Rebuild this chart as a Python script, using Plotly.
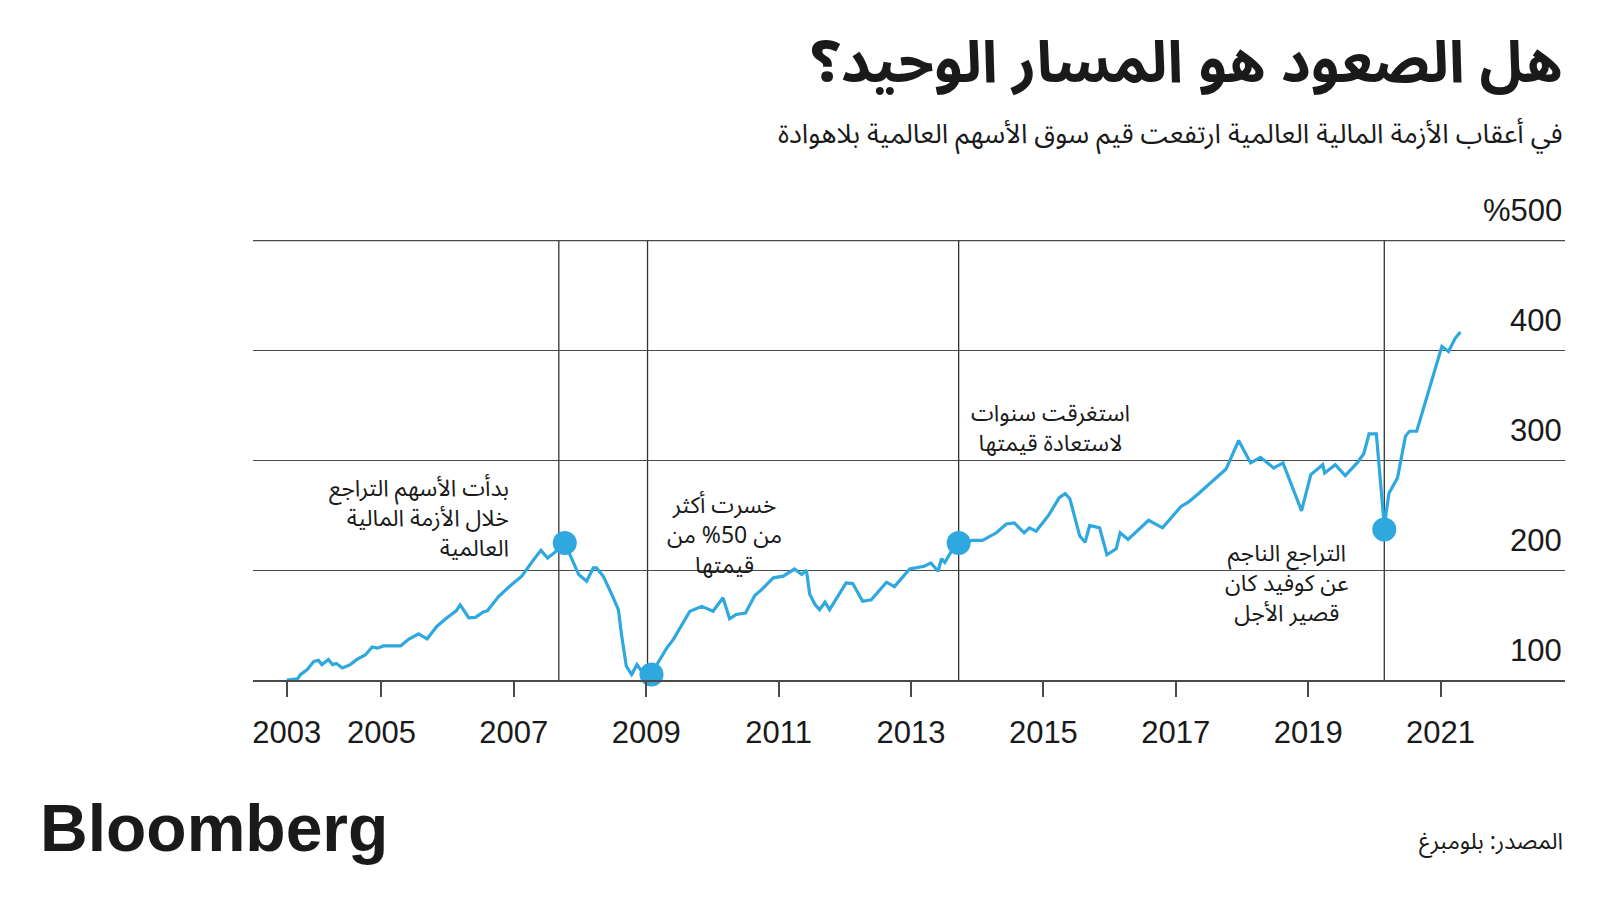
import plotly.graph_objects as go

# ---- data ----
years = [2003.57, 2003.73, 2003.78, 2003.88, 2003.98, 2004.05, 2004.10, 2004.20, 2004.26, 2004.32,
         2004.41, 2004.53, 2004.63, 2004.76, 2004.86, 2004.94, 2005.03, 2005.14, 2005.29, 2005.41,
         2005.56, 2005.69, 2005.84, 2005.99, 2006.13, 2006.19, 2006.32, 2006.42, 2006.54, 2006.60,
         2006.77, 2006.95, 2007.12, 2007.30, 2007.41, 2007.51, 2007.61, 2007.77, 2007.88, 2007.98,
         2008.10, 2008.20, 2008.25, 2008.35, 2008.48, 2008.58, 2008.63, 2008.70, 2008.78, 2008.86,
         2008.93, 2009.05, 2009.20, 2009.31, 2009.41, 2009.54, 2009.66, 2009.84, 2010.01, 2010.16,
         2010.20, 2010.26, 2010.36, 2010.50, 2010.64, 2010.74, 2010.92, 2011.07, 2011.24, 2011.35,
         2011.42, 2011.47, 2011.55, 2011.62, 2011.70, 2011.77, 2012.02, 2012.12, 2012.27, 2012.40,
         2012.63, 2012.75, 2012.98, 2013.20, 2013.30, 2013.41, 2013.46, 2013.51, 2013.61, 2013.72,
         2013.93, 2014.08, 2014.29, 2014.44, 2014.56, 2014.71, 2014.79, 2014.89, 2015.08, 2015.24,
         2015.33, 2015.40, 2015.55, 2015.63, 2015.70, 2015.85, 2015.96, 2016.10, 2016.16, 2016.28,
         2016.59, 2016.80, 2017.08, 2017.19, 2017.35, 2017.76, 2017.95, 2018.13, 2018.28, 2018.48,
         2018.62, 2018.90, 2019.04, 2019.22, 2019.25, 2019.41, 2019.56, 2019.74, 2019.84, 2019.92,
         2020.03, 2020.15, 2020.22, 2020.35, 2020.47, 2020.53, 2020.64, 2021.02, 2021.12, 2021.22,
         2021.30]
values = [100, 101, 105, 109.5, 117, 118, 114, 118.7, 114, 115,
          111, 114, 118.7, 123, 130, 129, 131, 131, 131, 137,
          142, 137.5, 149, 156.6, 163, 168.4, 156.6, 157, 162, 163,
          176, 186, 194.5, 209.6, 218, 211, 215.7, 224.8, 209.6, 196,
          190, 202, 202, 194.5, 178, 164, 140, 112.6, 105, 114,
          108, 103, 118, 129, 137, 150.5, 162.6, 167, 162.6, 174.8,
          167, 155.7, 159.6, 161, 177, 182, 193, 194.5, 201, 196,
          200, 178, 168.7, 164, 170.8, 164, 188.4, 187.8, 171.7, 173,
          189, 185, 201, 203.5, 206.6, 199, 210.5, 207, 217, 224.8,
          227, 227, 234, 242, 243, 234, 238.5, 235.4, 250, 266,
          269.7, 265, 231, 225.4, 240.6, 238.5, 214, 219.4, 234, 228,
          245.4, 238.5, 258, 261.8, 270, 292, 318, 297.6, 302.7, 293,
          297.6, 254, 287, 296, 288.5, 296, 286, 297.6, 306, 324,
          324, 240, 270, 284, 322, 326.4, 326.4, 403.7, 399, 411,
          416.8]

event_years = [2007.77, 2009.08, 2013.72, 2020.15]
event_values = [224.8, 105, 224.8, 237]
event_lines = [2007.68, 2009.02, 2013.72, 2020.15]

xtick_vals = [2003.57, 2005, 2007, 2009, 2011, 2013, 2015, 2017, 2019, 2021]
xtick_text = ["2003", "2005", "2007", "2009", "2011", "2013", "2015", "2017", "2019", "2021"]
ytick_vals = [100, 200, 300, 400, 500]
ytick_text = ["100", "200", "300", "400", "%500"]

TITLE = "هل الصعود هو المسار الوحيد؟"
SUBTITLE = "في أعقاب الأزمة المالية العالمية ارتفعت قيم سوق الأسهم العالمية بلاهوادة"
SOURCE = "المصدر: بلومبرغ"
NOTE1 = ["بدأت الأسهم التراجع", "خلال الأزمة المالية", "العالمية"]
NOTE2 = ["خسرت أكثر", "من 50% من", "قيمتها"]
NOTE3 = ["استغرقت سنوات", "لاستعادة قيمتها"]
NOTE4 = ["التراجع الناجم", "عن كوفيد كان", "قصير الأجل"]

# ---- layout geometry (screen pixels; page body adds an 8px offset) ----
OFF = 8
W, H = 1600 - 2 * OFF, 900 - 2 * OFF
L, R = 253, 1565            # plot area edges on screen
Y0, Y1 = 100, 500.5
Y500_PX, B = 241, 680.5     # screen y of the 500 gridline and of the 100 axis line
T = B - (B - Y500_PX) * (Y1 - Y0) / (500 - Y0)
X0, X1 = 2003.06, 2022.88

BLUE = "#2ea8df"
INK = "#1a1a1a"
GRID = "#4a4a4a"
AR_FONT = "Noto Sans Arabic, DejaVu Sans, sans-serif"
NUM_FONT = "Liberation Sans, Arial, sans-serif"


def px_x(px):
    return X0 + (px - L) / (R - L) * (X1 - X0)


def px_y(py):
    return Y0 + (B - py) / (B - T) * (Y1 - Y0)


def paper_x(px):
    return (px - L) / (R - L)


def paper_y(py):
    return (B - py) / (B - T)


fig = go.Figure()
fig.add_trace(go.Scatter(x=years, y=values, mode="lines",
                         line=dict(color=BLUE, width=3.2), hoverinfo="skip",
                         cliponaxis=False))
fig.add_trace(go.Scatter(x=event_years, y=event_values, mode="markers",
                         marker=dict(color=BLUE, size=24, line=dict(width=0)),
                         hoverinfo="skip", cliponaxis=False))

shapes = []
for ex in event_lines:
    shapes.append(dict(type="line", xref="x", yref="y", x0=ex, x1=ex, y0=Y0, y1=ytick_vals[-1],
                       line=dict(color="#333333", width=1.3), layer="below"))
# top gridline (the axis omits a gridline this close to the plot edge)
shapes.append(dict(type="line", xref="paper", yref="y", x0=0, x1=1,
                   y0=ytick_vals[-1], y1=ytick_vals[-1],
                   line=dict(color=GRID, width=1.3), layer="below"))

annotations = []


def add_note(lines, xpx, ypx_mid, anchor, size=23):
    annotations.append(dict(x=px_x(xpx), y=px_y(ypx_mid), xref="x", yref="y",
                            text="<br>".join(lines), align=anchor,
                            showarrow=False, xanchor=anchor, yanchor="middle",
                            font=dict(family=AR_FONT, size=size, color=INK)))


add_note(NOTE1, 511, 519, "right")
add_note(NOTE2, 724, 536, "center")
add_note(NOTE3, 1050, 429, "center")
add_note(NOTE4, 1287, 584, "center")

# y tick labels sit above their gridlines at the right edge
for v, t in zip(ytick_vals, ytick_text):
    annotations.append(dict(x=1, y=v, xref="paper", yref="y", text=t, showarrow=False,
                            xanchor="right", yanchor="middle", yshift=30, xshift=-1,
                            font=dict(family=NUM_FONT, size=31, color=INK)))

annotations.append(dict(x=paper_x(1565), y=paper_y(64), xref="paper", yref="paper", text=TITLE,
                        showarrow=False, xanchor="right", yanchor="middle",
                        font=dict(family=AR_FONT, size=58, color=INK, weight="bold")))
annotations.append(dict(x=paper_x(1565), y=paper_y(135), xref="paper", yref="paper", text=SUBTITLE,
                        showarrow=False, xanchor="right", yanchor="middle",
                        font=dict(family=AR_FONT, size=27, color=INK)))
annotations.append(dict(x=paper_x(1565), y=paper_y(842), xref="paper", yref="paper", text=SOURCE,
                        showarrow=False, xanchor="right", yanchor="middle",
                        font=dict(family=AR_FONT, size=23, color=INK)))
annotations.append(dict(x=paper_x(38), y=paper_y(829), xref="paper", yref="paper",
                        text="<b>Bloomberg</b>",
                        showarrow=False, xanchor="left", yanchor="middle",
                        font=dict(family=NUM_FONT, size=66, color=INK)))

fig.update_layout(
    width=W, height=H,
    margin=dict(l=L - OFF, r=W - (R - OFF), t=T - OFF, b=H - (B - OFF), pad=0),
    paper_bgcolor="white", plot_bgcolor="white",
    showlegend=False,
    shapes=shapes,
    annotations=annotations,
    xaxis=dict(range=[X0, X1], tickvals=xtick_vals, ticktext=xtick_text,
               showgrid=False, zeroline=False,
               showline=True, linecolor=GRID, linewidth=1.5,
               ticks="outside", ticklen=15, tickwidth=1.5, tickcolor=GRID,
               tickfont=dict(family=NUM_FONT, size=31, color=INK),
               ticklabelstandoff=9),
    yaxis=dict(range=[Y0, Y1], tickvals=ytick_vals, showticklabels=False,
               side="right",
               showgrid=True, gridcolor=GRID, gridwidth=1.3,
               zeroline=False, showline=False, ticks=""),
)

fig.write_html("out.html")
